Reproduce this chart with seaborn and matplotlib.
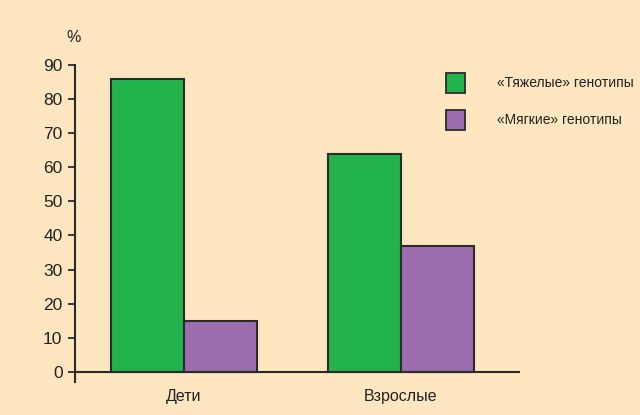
import matplotlib
matplotlib.use("Agg")
import matplotlib.pyplot as plt
import seaborn as sns
import pandas as pd

groups = ["Дети", "Взрослые"]
series = ["«Тяжелые» генотипы", "«Мягкие» генотипы"]
severe = [86, 64]
mild = [15, 37]
colors = ["#23B34C", "#9C6EAF"]
bg = "#FDE6C0"

df = pd.DataFrame({
    "group": groups * 2,
    "series": [series[0]] * 2 + [series[1]] * 2,
    "value": severe + mild,
})

sns.set_style("ticks")
plt.rcParams["font.family"] = ["Liberation Sans", "DejaVu Sans"]

W, H = 640, 415
fig = plt.figure(figsize=(W / 100, H / 100), dpi=100, facecolor=bg)
ax = fig.add_axes([75 / W, 1 - 382 / H, 445 / W, (382 - 65) / H])
ax.set_facecolor(bg)

sns.barplot(data=df, x="group", y="value", hue="series", order=groups,
            hue_order=series, palette=colors, width=0.673, saturation=1,
            edgecolor="#2b2b2b", linewidth=1.5, ax=ax, legend=False)

ax.set_xlim(-0.502, 1.548)
ax.set_ylim(-3, 90)
ax.set_yticks(range(0, 91, 10))
ax.axhline(0, color="#2b2b2b", lw=1.5, zorder=5)
for s in ["top", "right", "bottom"]:
    ax.spines[s].set_visible(False)
ax.spines["left"].set_color("#2b2b2b")
ax.spines["left"].set_linewidth(1.5)
ax.tick_params(axis="y", length=5, width=1.3, color="#2b2b2b", labelsize=12.5,
               labelcolor="#222222", pad=4)
ax.tick_params(axis="x", length=0, labelsize=11.5, labelcolor="#222222", pad=5)
ax.set_xlabel("")
ax.set_ylabel("")
fig.text(74 / W, 1 - 38 / H, "%", ha="center", va="center", fontsize=11.5,
         color="#222222")

# legend: square swatches with labels to the right
for i, (label, c) in enumerate(zip(series, colors)):
    yc = 83 + 37 * i
    fig.patches.append(plt.Rectangle((446 / W, 1 - (yc + 10) / H), 19 / W, 20 / H,
                                     transform=fig.transFigure, facecolor=c,
                                     edgecolor="#2b2b2b", lw=1.3))
    fig.text(497 / W, 1 - yc / H, label, ha="left", va="center",
             fontsize=10, color="#222222")

fig.savefig("out.png", dpi=100, facecolor=bg)
